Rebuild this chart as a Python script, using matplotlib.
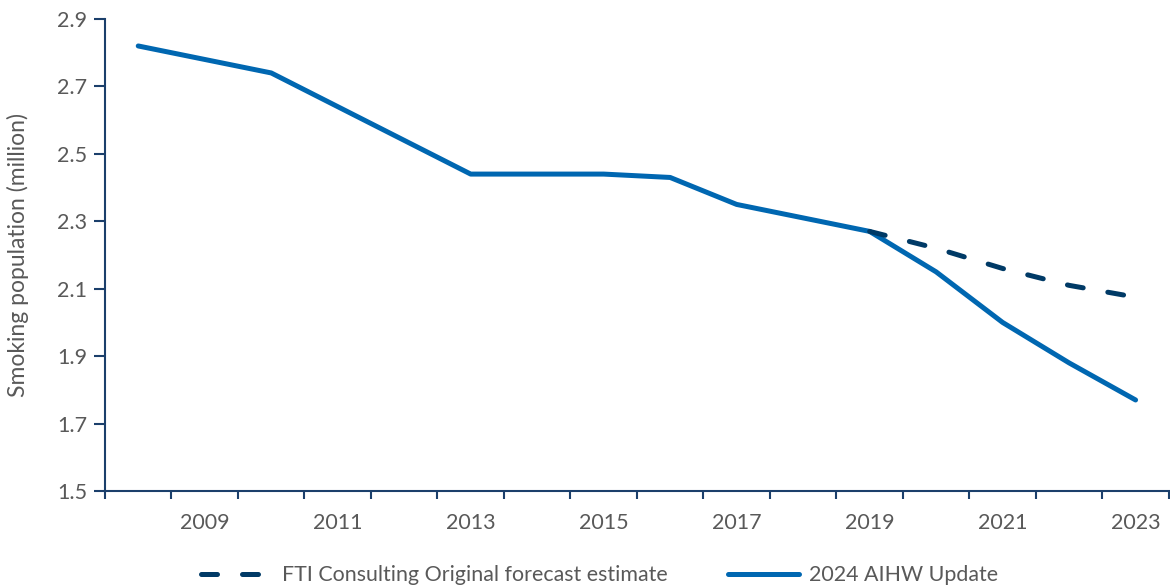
import numpy as np
import matplotlib.pyplot as plt

plt.rcParams['font.family'] = ['Lato', 'DejaVu Sans']

years = list(range(2008, 2024))
aihw_update = [2.82, 2.78, 2.74, 2.64, 2.54, 2.44, 2.44, 2.44, 2.43, 2.35, 2.31, 2.27,
               2.15, 2.00, 1.88, 1.77]
fti_years = [2019, 2020, 2021, 2022, 2023]
fti_forecast = [2.27, 2.22, 2.16, 2.11, 2.075]

text_col = '#595959'
axis_col = '#1B3F6B'
solid_col = '#0067B1'
dash_col = '#003A66'

fig = plt.figure(figsize=(11.7, 5.88), dpi=100)
ax = fig.add_axes([105 / 1170, 1 - 491 / 588, 1 - 105 / 1170 - 0.001, (491 - 19) / 588])

x = np.arange(len(years))
xf = np.array([years.index(y) for y in fti_years])

ax.plot(xf, fti_forecast, color=dash_col, lw=3.6, linestyle=(0, (3.2, 5)),
        dash_capstyle='round', label='FTI Consulting Original forecast estimate', zorder=3)
ax.plot(x, aihw_update, color=solid_col, lw=3.6, solid_capstyle='round',
        solid_joinstyle='round', label='2024 AIHW Update', zorder=2)

ax.set_xlim(-0.5, len(years) - 0.5)
ax.set_ylim(1.5, 2.9)
yt = np.arange(1.5, 2.91, 0.2)
ax.set_yticks(yt)
ax.set_yticklabels([f'{v:.1f}' for v in yt])

lab_idx = [i for i, y in enumerate(years) if y % 2 == 1]
ax.set_xticks(lab_idx)
ax.set_xticklabels([str(years[i]) for i in lab_idx])
ax.set_xticks(np.arange(-0.5, len(years)), minor=True)
ax.tick_params(axis='x', which='major', length=0, pad=16, labelsize=15.5, labelcolor=text_col)
ax.tick_params(axis='x', which='minor', length=6, width=1.5, color=axis_col, direction='out')
ax.tick_params(axis='y', length=8, width=1.5, color=axis_col, direction='out',
               labelsize=15.5, labelcolor=text_col, pad=5)

for s in ['top', 'right']:
    ax.spines[s].set_visible(False)
for s in ['left', 'bottom']:
    ax.spines[s].set_color(axis_col)
    ax.spines[s].set_linewidth(1.5)

ax.set_ylabel('Smoking population (million)', fontsize=16.5, color=text_col, labelpad=20)

leg = ax.legend(loc='upper center', bbox_to_anchor=(0.465, -0.117), ncol=2, frameon=False,
                fontsize=15.4, handlelength=3.3, columnspacing=2.8, handletextpad=0.5)
for t in leg.get_texts():
    t.set_color(text_col)

fig.savefig('out.png', dpi=100)
